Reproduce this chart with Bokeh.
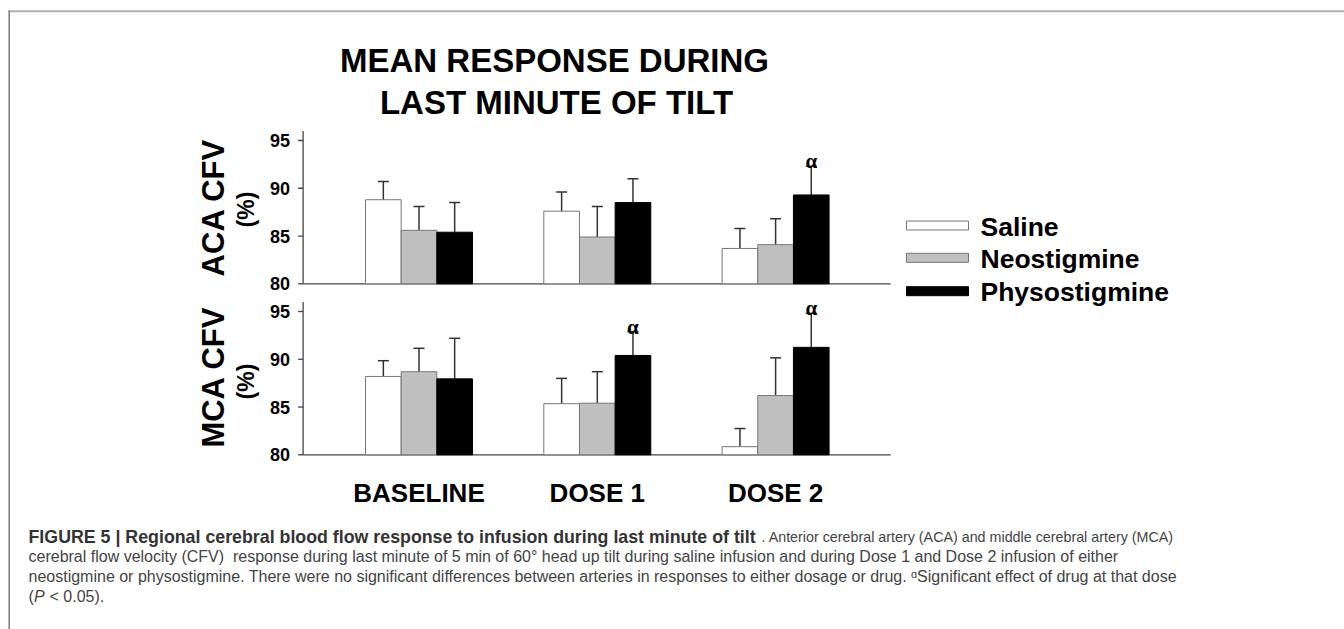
import math
from bokeh.plotting import figure
from bokeh.models import Range1d
from bokeh.core.properties import value
from bokeh.embed import file_html
from bokeh.resources import INLINE

# ---------------- data ----------------
title_lines = ["MEAN RESPONSE DURING", "LAST MINUTE OF TILT"]
groups = ["BASELINE", "DOSE 1", "DOSE 2"]
series = ["Saline", "Neostigmine", "Physostigmine"]
y_ticks = [80, 85, 90, 95]
y_axis_max = 96

aca_saline = [88.8, 87.6, 83.7]
aca_neo = [85.6, 84.9, 84.1]
aca_physo = [85.4, 88.5, 89.3]
aca_saline_se = [1.9, 2.0, 2.1]
aca_neo_se = [2.5, 3.2, 2.7]
aca_physo_se = [3.1, 2.5, 3.0]
aca_sig = [False, False, True]

mca_saline = [88.2, 85.35, 80.85]
mca_neo = [88.7, 85.4, 86.2]
mca_physo = [87.95, 90.4, 91.25]
mca_saline_se = [1.65, 2.65, 1.9]
mca_neo_se = [2.45, 3.3, 3.95]
mca_physo_se = [4.25, 2.5, 3.55]
mca_sig = [False, True, True]

caption_bold = "FIGURE 5 | Regional cerebral blood flow response to infusion during last minute of tilt"
caption_l1 = ". Anterior cerebral artery (ACA) and middle cerebral artery (MCA)"
caption_l2 = "cerebral flow velocity (CFV) \u00a0response during last minute of 5 min of 60\u00b0 head up tilt during saline infusion and during Dose 1 and Dose 2 infusion of either"
caption_l3 = "neostigmine or physostigmine. There were no significant differences between arteries in responses to either dosage or drug. \u1d45Significant effect of drug at that dose"
caption_l4 = ["(", "P", "< 0.05)."]

# ---------------- layout constants (image pixel coords) ----------------
W, H = 1344, 629
OX, OY = 0, 0
GX0 = 418.5      # image x of the first group centre
GDX = 178.3      # pixels per group
PPU = 9.553      # pixels per % unit
Y80_ACA = 283.3
Y80_MCA = 454.3
XA = -0.65       # axis position (group units)
XEND = 2.645
BW = 0.2

fills = ["white", "#c0c0c0", "black"]
lines = ["#777777", "#777777", "black"]

SANS = value("Liberation Sans")
SERIF = value("Liberation Serif")

def yr(y80):
    return Range1d(80 - (OY + H - y80) / PPU, 80 + (y80 - OY) / PPU)

p = figure(width=W, height=H, output_backend="svg", toolbar_location=None,
           x_range=Range1d((OX - GX0) / GDX, (OX + W - GX0) / GDX),
           y_range=yr(Y80_ACA),
           x_axis_location=None, y_axis_location=None,
           min_border=0, min_border_left=0, min_border_right=0,
           min_border_top=0, min_border_bottom=0)
p.grid.visible = False
p.outline_line_color = None
p.background_fill_color = "white"
p.extra_y_ranges = {"mca": yr(Y80_MCA), "px": Range1d(OY + H, OY)}
p.extra_x_ranges = {"px": Range1d(OX, OX + W)}

panels = [
    ("default", [aca_saline, aca_neo, aca_physo], [aca_saline_se, aca_neo_se, aca_physo_se], aca_sig),
    ("mca", [mca_saline, mca_neo, mca_physo], [mca_saline_se, mca_neo_se, mca_physo_se], mca_sig),
]

for rn, vals, ses, sig in panels:
    # axes
    p.segment(x0=[XA], y0=[y_ticks[0]], x1=[XA], y1=[y_axis_max], line_color="#444444",
              line_width=1.3, y_range_name=rn)
    p.segment(x0=[XA], y0=[y_ticks[0]], x1=[XEND], y1=[y_ticks[0]], line_color="#444444",
              line_width=1.3, y_range_name=rn)
    p.ray(x=[XA] * len(y_ticks), y=y_ticks, length=5, length_units="screen", angle=math.pi,
          line_color="#444444", line_width=1.3, y_range_name=rn)
    p.text(x=[XA] * len(y_ticks), y=y_ticks, text=[str(t) for t in y_ticks], x_offset=-13,
           text_align="right", text_baseline="middle", text_font=SANS, text_font_style="bold",
           text_font_size="18px", text_color="black", y_range_name=rn)
    for i in range(len(series)):
        xs = [g + (i - 1) * BW for g in range(len(groups))]
        tops = vals[i]
        errs = [v + e for v, e in zip(tops, ses[i])]
        p.segment(x0=xs, y0=tops, x1=xs, y1=errs, line_color="#333333", line_width=1.5,
                  y_range_name=rn)
        p.scatter(x=xs, y=errs, marker="dash", size=11, line_color="#333333", line_width=1.5,
                  y_range_name=rn)
        p.vbar(x=xs, width=BW, bottom=y_ticks[0], top=tops, fill_color=fills[i],
               line_color=lines[i], line_width=1, y_range_name=rn)
        if i == 2:
            sx = [x for x, s in zip(xs, sig) if s]
            sy = [e for e, s in zip(errs, sig) if s]
            p.text(x=sx, y=sy, text=["\u03b1"] * len(sx), y_offset=-5, text_align="center",
                   text_baseline="alphabetic", text_font=SERIF, text_font_style="bold",
                   text_font_size="21px", text_color="black", y_range_name=rn)

# axis titles
for name, cy, pcy in [("ACA CFV", 207, 209), ("MCA CFV", 376.5, 381)]:
    p.text(x=[213], y=[cy], text=[name], angle=math.pi / 2, text_align="center",
           text_baseline="middle", text_font=SANS, text_font_style="bold", text_font_size="31px",
           text_color="black", x_range_name="px", y_range_name="px")
    p.text(x=[245], y=[pcy], text=["(%)"], angle=math.pi / 2, text_align="center",
           text_baseline="middle", text_font=SANS, text_font_style="bold", text_font_size="23px",
           text_color="black", x_range_name="px", y_range_name="px")

# category labels
p.text(x=list(range(len(groups))), y=[492.3] * len(groups), text=groups, text_align="center",
       text_baseline="alphabetic", text_font=SANS, text_font_style="bold", text_font_size="26px",
       text_color="black", y_range_name="px")

# title
p.text(x=[554, 556], y=[60, 101.7], text=title_lines, text_align="center",
       text_baseline="alphabetic", text_font=SANS, text_font_style="bold", text_font_size="33px",
       text_color="black", x_range_name="px", y_range_name="px")

# legend
leg_y = [225, 257.3, 290.7]
p.rect(x=[937] * 3, y=leg_y, width=62, height=9, fill_color=fills, line_color=lines,
       line_width=1, x_range_name="px", y_range_name="px")
p.text(x=[980] * 3, y=[y + 1 for y in leg_y], text=series, text_align="left",
       text_baseline="middle", text_font=SANS, text_font_style="bold", text_font_size="26.5px",
       text_color="black", x_range_name="px", y_range_name="px")

# caption
CAP = value("Liberation Sans")
CS = "16px"
p.text(x=[28], y=[536], text=[caption_bold], text_baseline="alphabetic", text_font=CAP,
       text_font_style="bold", text_font_size="17.8px", text_color="#333333",
       x_range_name="px", y_range_name="px")
p.text(x=[761], y=[536], text=[caption_l1], text_baseline="alphabetic", text_font=CAP,
       text_font_size="14.3px", text_color="#444444", x_range_name="px", y_range_name="px")
p.text(x=[28, 28], y=[556, 576], text=[caption_l2, caption_l3], text_baseline="alphabetic",
       text_font=CAP, text_font_size=CS, text_color="#444444",
       x_range_name="px", y_range_name="px")
p.text(x=[28], y=[596], text=[caption_l4[0]], text_baseline="alphabetic", text_font=CAP,
       text_font_size=CS, text_color="#444444", x_range_name="px", y_range_name="px")
p.text(x=[33.5], y=[596], text=[caption_l4[1]], text_baseline="alphabetic", text_font=CAP,
       text_font_style="italic", text_font_size=CS, text_color="#444444",
       x_range_name="px", y_range_name="px")
p.text(x=[49], y=[596], text=[caption_l4[2]], text_baseline="alphabetic", text_font=CAP,
       text_font_size=CS, text_color="#444444", x_range_name="px", y_range_name="px")

# page frame lines
p.segment(x0=[8], y0=[10.8], x1=[1344], y1=[10.8], line_color="#b0b0b0", line_width=2,
          x_range_name="px", y_range_name="px")
p.segment(x0=[8.7], y0=[10], x1=[8.7], y1=[629], line_color="#7a7a7a", line_width=1.5,
          x_range_name="px", y_range_name="px")

open("out.html", "w").write(file_html(p, INLINE))
